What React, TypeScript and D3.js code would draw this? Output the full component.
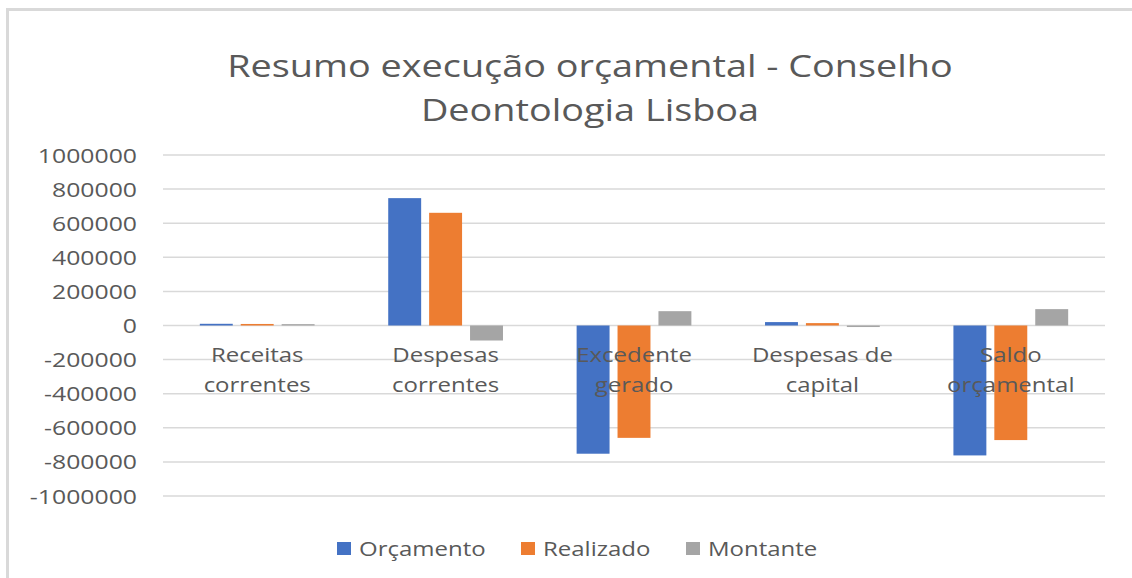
import React from "react";
import * as d3 from "d3";

const categories = [
  ["Receitas", "correntes"],
  ["Despesas", "correntes"],
  ["Excedente", "gerado"],
  ["Despesas de", "capital"],
  ["Saldo", "orçamental"],
];
const series = ["Orçamento", "Realizado", "Montante"];
const orcamento = [10000, 747000, -752000, 20000, -762000];
const realizado = [9000, 661000, -659000, 14000, -672000];
const montante = [8000, -88000, 84000, -9000, 96000];
const yTicks = [1000000, 800000, 600000, 400000, 200000, 0, -200000, -400000, -600000, -800000, -1000000];
const colors = ["#4472C4", "#ED7D31", "#A5A5A5"];

const W = 1132;
const H = 578;
const FONT = "'Open Sans', 'DejaVu Sans', sans-serif";
const TXT = "#595959";

export default function App() {
  const values = [orcamento, realizado, montante];

  const x0 = d3
    .scaleBand()
    .domain(categories.map((c) => c.join(" ")))
    .range([163, 1105])
    .padding(0);
  const x1 = d3
    .scaleBand()
    .domain(series)
    .range([0, x0.bandwidth()])
    .paddingInner(0.195)
    .paddingOuter(0.9);
  const y = d3.scaleLinear().domain([-1000000, 1000000]).range([496, 155]);

  const sx = 1.2; // reference text is drawn wide

  return (
    <svg
      width={W}
      height={H}
      style={{ position: "fixed", left: 0, top: 0, background: "#fff" }}
      fontFamily={FONT}
    >
      <rect x={0} y={0} width={W} height={H} fill="#fff" />
      {/* chart frame */}
      <path d={`M7.5,${H + 5} V9.5 H${W + 5}`} fill="none" stroke="#d9d9d9" strokeWidth={3} />

      {/* title */}
      <g fill={TXT} fontSize={31} textAnchor="middle">
        <text transform={`translate(590,77) scale(1.22,1)`}>
          Resumo execução orçamental - Conselho
        </text>
        <text transform={`translate(590,121) scale(1.22,1)`}>Deontologia Lisboa</text>
      </g>

      {/* gridlines */}
      {yTicks.map((t) => (
        <line
          key={"g" + t}
          x1={163}
          x2={1105}
          y1={y(t)}
          y2={y(t)}
          stroke="#d9d9d9"
          strokeWidth={1.5}
        />
      ))}

      {/* y tick labels */}
      {yTicks.map((t) => (
        <text
          key={"t" + t}
          transform={`translate(137,${y(t)}) scale(1.24,1)`}
          textAnchor="end"
          dominantBaseline="central"
          fontSize={20}
          fill={TXT}
        >
          {t}
        </text>
      ))}

      {/* bars */}
      {categories.map((c, i) => {
        const cx = x0(c.join(" ")) as number;
        return (
          <g key={"b" + i} transform={`translate(${cx},0)`}>
            {series.map((s, j) => {
              const v = values[j][i];
              return (
                <rect
                  key={s}
                  x={x1(s)}
                  width={x1.bandwidth()}
                  y={Math.min(y(v), y(0))}
                  height={Math.abs(y(v) - y(0))}
                  fill={colors[j]}
                />
              );
            })}
          </g>
        );
      })}

      {/* category labels */}
      {categories.map((c, i) => {
        const cx = (x0(c.join(" ")) as number) + x0.bandwidth() / 2;
        return (
          <g key={"c" + i} fill={TXT} fontSize={20} textAnchor="middle">
            {c.map((line, k) => (
              <text key={k} transform={`translate(${cx},${362 + k * 30}) scale(${sx},1)`}>
                {line}
              </text>
            ))}
          </g>
        );
      })}

      {/* legend */}
      {series.map((s, j) => {
        const lx = [337, 521, 686][j];
        return (
          <g key={"l" + s}>
            <rect x={lx} y={542} width={14} height={13} fill={colors[j]} />
            <text
              transform={`translate(${lx + 22},556) scale(${sx},1)`}
              fontSize={20}
              fill={TXT}
            >
              {s}
            </text>
          </g>
        );
      })}
    </svg>
  );
}
